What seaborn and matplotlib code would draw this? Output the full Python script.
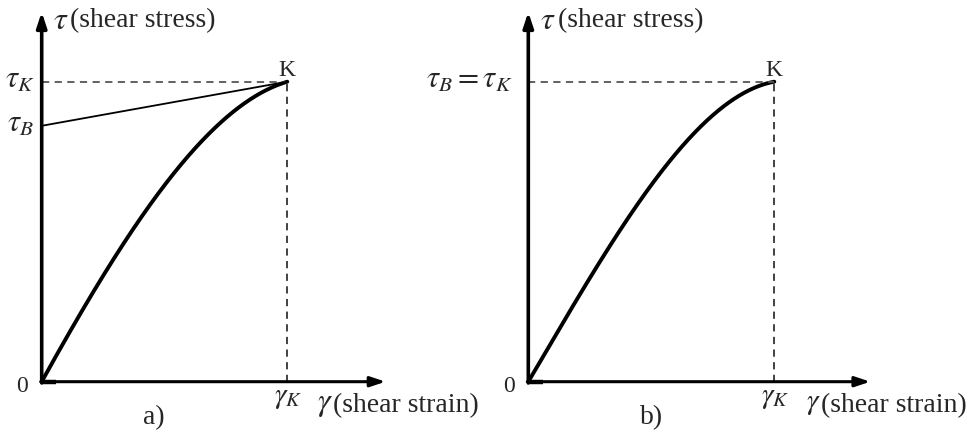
import numpy as np
import pandas as pd
import matplotlib
matplotlib.use("Agg")
import matplotlib.pyplot as plt
import seaborn as sns

# Normalised shear stress-strain curves (gamma/gamma_K, tau/tau_K)
strain_a = [0.0, 0.210, 0.400, 0.516, 0.651, 0.787, 0.896, 1.0]
stress_a = [0.0, 0.306, 0.533, 0.672, 0.806, 0.906, 0.961, 1.0]
strain_b = [0.0, 0.203, 0.387, 0.508, 0.644, 0.779, 0.915, 1.0]
stress_b = [0.0, 0.272, 0.528, 0.667, 0.806, 0.906, 0.967, 1.0]
tau_B_a = 0.853  # intercept of the secant line in panel a
panel_labels = ["a)", "b)"]

sns.set_style("white")
plt.rcParams["font.family"] = ["Liberation Serif", "DejaVu Serif"]
plt.rcParams["mathtext.fontset"] = "stix"

fig = plt.figure(figsize=(9.75, 4.34), dpi=100)


def smooth_curve(xs, ys, n=300):
    # least-squares cubic through the points, pinned at both ends
    xs = np.asarray(xs, float); ys = np.asarray(ys, float)
    w = np.ones_like(xs); w[0] = w[-1] = 50.0
    coef = np.polyfit(xs, ys, 3, w=w)
    xx = np.linspace(xs[0], xs[-1], n)
    return xx, np.polyval(coef, xx)


def draw_panel(ax, strain, stress, label, p):
    ax.set_axis_off()
    xx, yy = smooth_curve(strain, stress)
    df = pd.DataFrame({"strain": xx, "stress": yy})
    sns.lineplot(data=df, x="strain", y="stress", ax=ax, color="black", lw=2.8,
                 sort=False, estimator=None)
    # axes with arrowheads
    ax.annotate("", xy=(0, 1.232), xytext=(0, -0.004),
                arrowprops=dict(arrowstyle="-|>,head_length=0.9,head_width=0.3",
                                lw=2.6, color="black", shrinkA=0, shrinkB=0))
    ax.annotate("", xy=(p["xarrow"], 0), xytext=(-0.004, 0),
                arrowprops=dict(arrowstyle="-|>,head_length=0.9,head_width=0.3",
                                lw=2.2, color="black", shrinkA=0, shrinkB=0))
    ax.plot([-0.004, 0.06], [0, 0], color="black", lw=3.2, solid_capstyle="butt")
    # guide lines to K
    ax.plot([0, 1], [1, 1], ls=(0, (4, 3)), color="#555555", lw=1.3)
    ax.plot([1, 1], [0, 1], ls=(0, (4, 3)), color="#333333", lw=1.3)
    if p.get("tau_B") is not None:
        ax.plot([0, 1], [p["tau_B"], 1], color="black", lw=1.3)
        ax.text(-0.088, p["tau_B"] + 0.005, r"$\tau_B$", fontsize=22, ha="center", va="center")
    ax.text(p["taux"], 1.005, p["tau_label"], fontsize=22, ha=p["tau_ha"], va="center")
    ax.text(1.0, 1.039, "K", fontsize=17, ha="center", va="center")
    ax.text(-0.079, -0.015, "0", fontsize=17, ha="center", va="center")
    ax.text(1.005, -0.053, r"$\gamma_K$", fontsize=21, ha="center", va="center")
    ax.text(p["tx"], 1.199, r"$\tau$", fontsize=23, ha="left", va="center")
    ax.text(p["tpx"], 1.205, "(shear stress)", fontsize=20, ha="left", va="center")
    ax.text(p["gx"], -0.075, r"$\gamma$", fontsize=p["gfs"], ha="left", va="center")
    ax.text(p["gpx"], -0.08, "(shear strain)", fontsize=20, ha="left", va="center")
    ax.text(p["lx"], -0.121, label, fontsize=20, ha="center", va="center")


ax_a = fig.add_axes([0, 0, 0.5, 1])
ax_a.set_xlim(-41.7 / 245.6, (487.5 - 41.7) / 245.6)
ax_a.set_ylim(-(434 - 381.7) / 300, 381.7 / 300)
draw_panel(ax_a, strain_a, stress_a, panel_labels[0],
           dict(xarrow=1.40, tau_B=tau_B_a, tau_label=r"$\tau_K$", taux=-0.088, tau_ha="center",
                tx=0.046, tpx=0.115, gx=1.121, gpx=1.186, gfs=23, lx=0.457))

ax_b = fig.add_axes([0.5, 0, 0.5, 1])
ax_b.set_xlim(-(528.3 - 487.5) / 246, (975 - 528.3) / 246)
ax_b.set_ylim(-(434 - 381.7) / 300, 381.7 / 300)
draw_panel(ax_b, strain_b, stress_b, panel_labels[1],
           dict(xarrow=1.39, tau_label=r"$\tau_B = \tau_K$", taux=-0.062, tau_ha="right",
                tx=0.048, tpx=0.121, gx=1.127, gpx=1.19, gfs=21, lx=0.503))

fig.savefig("out.png", dpi=100)
